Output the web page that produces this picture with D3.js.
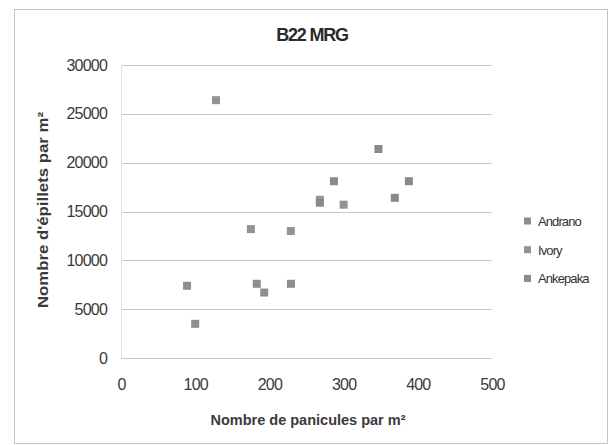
<!DOCTYPE html>
<html>
<head>
<meta charset="utf-8">
<script src="https://cdn.jsdelivr.net/npm/d3@7"></script>
<style>
  body { margin: 0; background: #fff; }
  svg text { font-family: "Liberation Sans", Arial, sans-serif; }
</style>
</head>
<body>
<div id="chart"></div>
<script>
(function () {
    "use strict";

    //Data (panicules per m2, épillets per m2)
    var seriesNames = ["Andrano", "Ivory", "Ankepaka"];
    var seriesColours = ["#8e8e8e", "#939393", "#8a8a8a"];
    var andrano = [[89, 7400], [100, 3500], [183, 7600], [193, 6700], [229, 7600]];
    var ivory = [[128, 26400], [175, 13200], [229, 13000], [268, 16200], [300, 15700]];
    var ankepaka = [[268, 15900], [287, 18100], [347, 21400], [369, 16400], [388, 18100]];
    var xTicks = [0, 100, 200, 300, 400, 500];
    var yTicks = [0, 5000, 10000, 15000, 20000, 25000, 30000];

    var allSeries = [andrano, ivory, ankepaka];

    var width = 616, height = 445;
    var plot = { left: 121, right: 492, top: 65, bottom: 358 };

    var svg = d3.select("#chart").append("svg")
        .attr("width", width)
        .attr("height", height);

    //Outer chart border
    svg.append("rect")
        .attr("x", 14.5).attr("y", 9.5)
        .attr("width", 593).attr("height", 434)
        .attr("fill", "#fff")
        .attr("stroke", "#c4c4c4");

    var x = d3.scaleLinear().domain([0, 500]).range([plot.left, plot.right]);
    var y = d3.scaleLinear().domain([0, 30000]).range([plot.bottom, plot.top]);

    //Gridlines
    svg.append("g").selectAll("line")
        .data(yTicks)
        .enter().append("line")
        .attr("x1", plot.left).attr("x2", plot.right)
        .attr("y1", function (d) { return Math.round(y(d)) + 0.5; })
        .attr("y2", function (d) { return Math.round(y(d)) + 0.5; })
        .attr("stroke", "#c6c6c6");

    //Faint left axis line
    svg.append("line")
        .attr("x1", plot.left + 0.5).attr("x2", plot.left + 0.5)
        .attr("y1", plot.top).attr("y2", plot.bottom)
        .attr("stroke", "#e4e4e4");

    var fmt = d3.format("d");

    //Y axis
    var yAxis = svg.append("g")
        .attr("transform", "translate(" + (plot.left - 14) + ",0)")
        .call(d3.axisLeft(y).tickValues(yTicks).tickFormat(fmt).tickSize(0).tickPadding(0));
    yAxis.select(".domain").remove();
    yAxis.selectAll("text")
        .attr("font-size", 16)
        .attr("letter-spacing", -0.8)
        .attr("fill", "#3a3a3a")
        .attr("font-family", "Liberation Sans, Arial, sans-serif");

    //X axis
    var xAxis = svg.append("g")
        .attr("transform", "translate(0," + (plot.bottom + 21) + ")")
        .call(d3.axisBottom(x).tickValues(xTicks).tickFormat(fmt).tickSize(0).tickPadding(0));
    xAxis.select(".domain").remove();
    xAxis.selectAll("text")
        .attr("font-size", 16)
        .attr("letter-spacing", -0.8)
        .attr("fill", "#3a3a3a")
        .attr("font-family", "Liberation Sans, Arial, sans-serif");

    //Titles
    svg.append("text")
        .attr("x", 312).attr("y", 41)
        .attr("text-anchor", "middle")
        .attr("font-size", 18).attr("font-weight", "bold")
        .attr("letter-spacing", -1.2)
        .attr("fill", "#2a2a2a")
        .text("B22 MRG");

    svg.append("text")
        .attr("x", 308).attr("y", 425)
        .attr("text-anchor", "middle")
        .attr("font-size", 14).attr("font-weight", "bold")
        .attr("textLength", 195).attr("lengthAdjust", "spacingAndGlyphs")
        .attr("fill", "#3a3a3a")
        .text("Nombre de panicules par m²");

    svg.append("text")
        .attr("transform", "translate(48,210) rotate(-90)")
        .attr("text-anchor", "middle")
        .attr("font-size", 14).attr("font-weight", "bold")
        .attr("textLength", 196).attr("lengthAdjust", "spacingAndGlyphs")
        .attr("fill", "#3a3a3a")
        .text("Nombre d'épillets par m²");

    //Points
    var ms = 8;
    allSeries.forEach(function (s, i) {
        svg.append("g").selectAll("rect")
            .data(s)
            .enter().append("rect")
            .attr("x", function (d) { return x(d[0]) - ms / 2; })
            .attr("y", function (d) { return y(d[1]) - ms / 2; })
            .attr("width", ms).attr("height", ms)
            .attr("fill", seriesColours[i]);
    });

    //Legend
    var legend = svg.append("g").selectAll("g")
        .data(seriesNames)
        .enter().append("g")
        .attr("transform", function (d, i) { return "translate(524," + (221 + i * 28.7) + ")"; });
    legend.append("rect")
        .attr("x", 0).attr("y", -3.5)
        .attr("width", 7).attr("height", 7)
        .attr("fill", function (d, i) { return seriesColours[i]; });
    legend.append("text")
        .attr("x", 14).attr("y", 5)
        .attr("font-size", 13)
        .attr("letter-spacing", -0.9)
        .attr("fill", "#333")
        .text(function (d) { return d; });

})();
</script>
</body>
</html>
